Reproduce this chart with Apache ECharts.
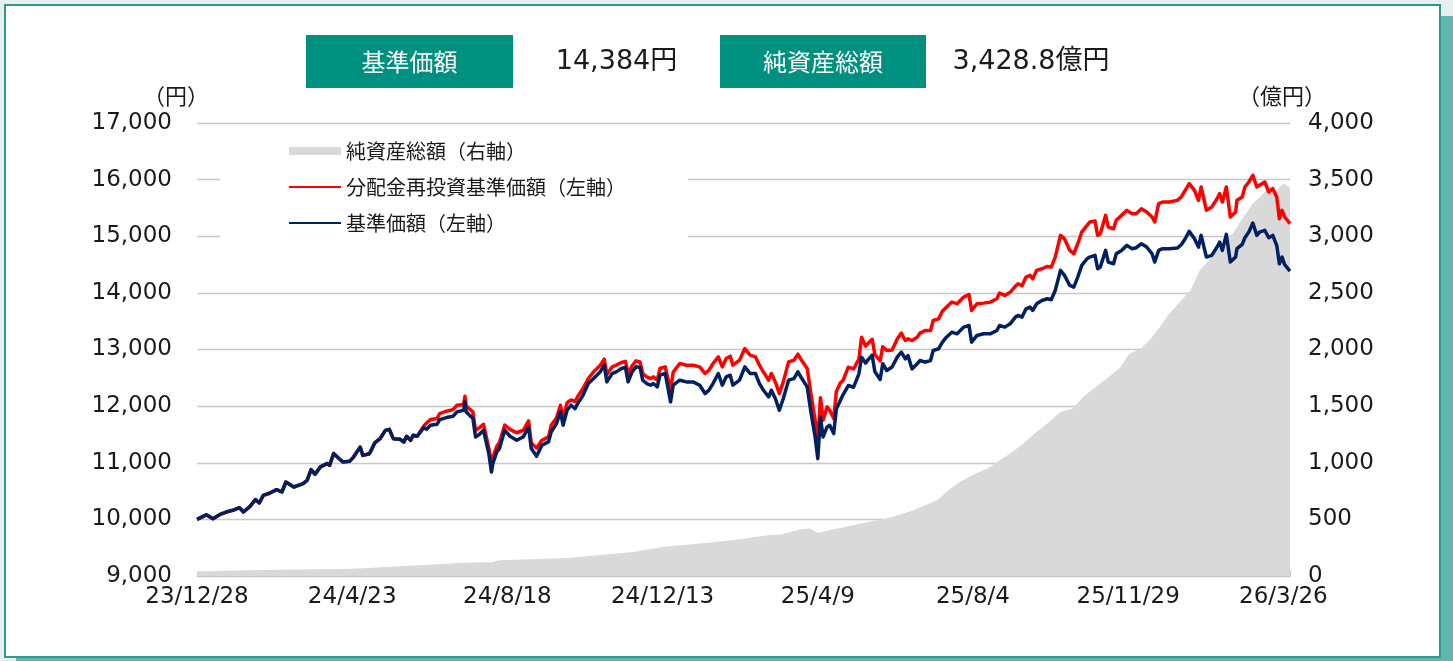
<!DOCTYPE html>
<html><head><meta charset="utf-8">
<script src="https://cdn.jsdelivr.net/npm/echarts@6/dist/echarts.min.js"></script>
<style>
html,body{margin:0;padding:0;width:1453px;height:661px;overflow:hidden;background:#e8eef0;}
#frame{position:absolute;left:4px;top:4px;width:1433px;height:650px;border:2px solid #2b9b8d;background:#fff;box-shadow:12px 12px 0 #62b7ac;}
#chart{position:absolute;left:0;top:0;width:1453px;height:661px;z-index:1;}
</style></head>
<body><div id="frame"></div><div id="chart"></div>
<script>
// ---- data ----
const tickLabels = ['23/12/28','24/4/23','24/8/18','24/12/13','25/4/9','25/8/4','25/11/29','26/3/26'];
const navDates = [
'23/12/28','24/1/4','24/1/9','24/1/14','24/1/19','24/1/24','24/1/29','24/2/1','24/2/6','24/2/10',
'24/2/13','24/2/16','24/2/21','24/2/26','24/3/1','24/3/4','24/3/10','24/3/17','24/3/20','24/3/23',
'24/3/26','24/3/30','24/4/4','24/4/6','24/4/9','24/4/13','24/4/16','24/4/21','24/4/24','24/4/29',
'24/5/1','24/5/6','24/5/10','24/5/14','24/5/18','24/5/21','24/5/24','24/5/29','24/6/1','24/6/3',
'24/6/6','24/6/8','24/6/11','24/6/16','24/6/18','24/6/21','24/6/26','24/6/28','24/7/3','24/7/8',
'24/7/11','24/7/16','24/7/17','24/7/18','24/7/23','24/7/25','24/7/28','24/7/31','24/8/4','24/8/6',
'24/8/7','24/8/10','24/8/12','24/8/16','24/8/20','24/8/25','24/8/30','24/9/3','24/9/5','24/9/9',
'24/9/13','24/9/18','24/9/20','24/9/24','24/9/27','24/9/29','24/10/2','24/10/5','24/10/8','24/10/10',
'24/10/14','24/10/18','24/10/22','24/10/27','24/10/30','24/11/1','24/11/5','24/11/8','24/11/12','24/11/15',
'24/11/17','24/11/20','24/11/23','24/11/26','24/11/28','24/12/1','24/12/4','24/12/6','24/12/9','24/12/11',
'24/12/15','24/12/19','24/12/21','24/12/26','24/12/31','25/1/5','25/1/10','25/1/14','25/1/17','25/1/20',
'25/1/24','25/1/27','25/1/30','25/2/2','25/2/4','25/2/9','25/2/13','25/2/17','25/2/21','25/2/24',
'25/2/27','25/3/3','25/3/5','25/3/8','25/3/11','25/3/14','25/3/18','25/3/22','25/3/25','25/3/28',
'25/4/1','25/4/4','25/4/7','25/4/9','25/4/11','25/4/13','25/4/16','25/4/18','25/4/21','25/4/23',
'25/4/26','25/4/28','25/5/2','25/5/6','25/5/10','25/5/12','25/5/15','25/5/17','25/5/20','25/5/22',
'25/5/26','25/5/28','25/5/31','25/6/4','25/6/8','25/6/11','25/6/14','25/6/16','25/6/19','25/6/23',
'25/6/25','25/6/29','25/7/3','25/7/5','25/7/9','25/7/12','25/7/15','25/7/19','25/7/23','25/7/28',
'25/8/1','25/8/3','25/8/7','25/8/12','25/8/17','25/8/22','25/8/24','25/8/28','25/9/1','25/9/5',
'25/9/7','25/9/10','25/9/13','25/9/16','25/9/18','25/9/21','25/9/25','25/9/29','25/10/2','25/10/5',
'25/10/9','25/10/12','25/10/16','25/10/19','25/10/22','25/10/25','25/10/29','25/10/31','25/11/4','25/11/6',
'25/11/8','25/11/12','25/11/14','25/11/18','25/11/20','25/11/24','25/11/28','25/12/2','25/12/5','25/12/9',
'25/12/13','25/12/17','25/12/19','25/12/22','25/12/25','25/12/30','26/1/5','26/1/8','26/1/11','26/1/14',
'26/1/18','26/1/21','26/1/23','26/1/27','26/1/31','26/2/4','26/2/6','26/2/8','26/2/11','26/2/14',
'26/2/18','26/2/19','26/2/23','26/2/25','26/2/28','26/3/3','26/3/6','26/3/8','26/3/12','26/3/15',
'26/3/18','26/3/21','26/3/23','26/3/25','26/3/27','26/3/31'
];
// 基準価額（左軸）
const navValues = [
10000,10080,10012,10083,10130,10160,10207,10130,10230,10348,
10290,10425,10466,10525,10483,10660,10572,10630,10690,10879,
10797,10927,10985,10956,11164,11075,11015,11025,11100,11276,
11130,11160,11350,11425,11572,11590,11425,11414,11367,11467,
11396,11485,11467,11620,11590,11662,11680,11762,11798,11821,
11898,11927,12075,11898,11780,11456,11503,11574,11161,10837,
10985,11191,11250,11574,11468,11397,11456,11633,11250,11114,
11309,11368,11544,11692,11898,11662,11927,12016,11957,12045,
12193,12399,12487,12605,12723,12428,12576,12605,12664,12682,
12428,12605,12694,12682,12458,12399,12369,12399,12340,12546,
12576,12075,12369,12458,12428,12428,12369,12222,12281,12399,
12576,12369,12517,12546,12369,12458,12694,12576,12576,12399,
12281,12163,12281,12134,11927,12134,12458,12487,12605,12487,
12340,11869,11456,11073,11810,11456,11633,11662,11515,11950,
12100,12200,12364,12334,12570,12864,12760,12820,12900,12610,
12470,12750,12629,12690,12870,12953,12835,12894,12658,12747,
12806,12776,12806,12982,13012,13130,13218,13306,13277,13395,
13424,13130,13248,13277,13277,13336,13424,13395,13454,13572,
13601,13572,13719,13748,13689,13807,13866,13896,13878,14043,
14397,14308,14131,14102,14279,14485,14603,14632,14662,14426,
14456,14750,14544,14514,14691,14750,14839,14780,14797,14868,
14809,14691,14544,14750,14780,14780,14791,14850,14956,15086,
14956,14809,15015,14632,14662,14809,14898,14750,15033,14544,
14632,14780,14856,14974,15074,15233,15015,15074,15104,14974,
15015,14839,14514,14632,14497,14384
];
// 分配金再投資基準価額（左軸）
const reinvValues = [
10000,10080,10012,10083,10130,10160,10207,10130,10230,10348,
10290,10425,10466,10525,10483,10660,10572,10630,10690,10879,
10797,10927,10985,10956,11164,11075,11015,11025,11100,11276,
11130,11160,11350,11425,11572,11590,11425,11414,11367,11467,
11396,11485,11467,11650,11700,11762,11780,11869,11910,11939,
12016,12030,12175,12000,11898,11574,11620,11680,11260,10980,
11095,11290,11355,11665,11590,11530,11574,11739,11350,11260,
11397,11456,11662,11790,12016,11780,12060,12110,12080,12170,
12310,12487,12605,12723,12830,12560,12694,12723,12770,12790,
12576,12710,12800,12780,12576,12517,12487,12517,12458,12664,
12694,12281,12600,12752,12723,12723,12694,12576,12635,12752,
12870,12694,12841,12882,12723,12811,13018,12900,12870,12723,
12605,12458,12576,12428,12222,12428,12782,12810,12917,12800,
12664,12193,11751,11368,12150,11751,11986,11927,11780,12260,
12410,12450,12688,12658,12830,13218,13060,13110,13180,12910,
12800,13050,12982,12990,13190,13289,13159,13189,13159,13218,
13289,13336,13336,13513,13540,13680,13748,13837,13810,13925,
13972,13690,13807,13819,13837,13896,13996,13955,14010,14120,
14161,14125,14279,14310,14249,14397,14426,14467,14456,14632,
15015,14956,14750,14691,14868,15074,15192,15251,15269,15015,
15045,15369,15163,15133,15281,15369,15457,15398,15398,15487,
15428,15340,15251,15575,15605,15605,15634,15693,15811,15929,
15811,15634,15870,15457,15516,15663,15752,15605,15870,15340,
15428,15634,15693,15870,15958,16076,15870,15899,15958,15781,
15840,15693,15310,15457,15340,15222
];
// 純資産総額（右軸, 億円）
const assetDates = [
'23/12/28','24/2/13','24/4/24','24/6/13','24/7/16','24/8/6','24/8/12','24/10/2','24/11/21','24/12/13',
'25/1/10','25/2/4','25/3/2','25/3/12','25/3/27','25/4/3','25/4/9','25/4/18','25/5/13','25/5/28',
'25/6/10','25/6/20','25/7/8','25/7/18','25/7/25','25/8/4','25/8/15','25/8/22','25/9/1','25/9/11',
'25/9/18','25/9/29','25/10/9','25/10/18','25/10/26','25/11/3','25/11/13','25/11/23','25/11/30','25/12/8',
'25/12/16','25/12/23','25/12/30','26/1/7','26/1/15','26/1/22','26/1/30','26/2/6','26/2/16','26/2/24',
'26/3/3','26/3/11','26/3/16','26/3/21','26/3/26','26/3/31'
];
const assetValues = [
40,52,65,95,118,122,140,159,212,256,
286,315,360,366,410,419,380,404,468,501,
540,580,669,772,830,895,949,1007,1081,1170,
1243,1346,1449,1479,1581,1655,1744,1840,1965,2000,
2097,2200,2318,2420,2524,2700,2804,2906,3025,3171,
3290,3378,3436,3407,3466,3428.8
];
const headerNav = '14,384円';
const headerAssets = '3,428.8億円';

// ---- helpers ----
const T0 = Date.UTC(2023, 11, 28);
function dayOf(s) {
  const p = s.split('/').map(Number);
  return Math.round((Date.UTC(2000 + p[0], p[1] - 1, p[2]) - T0) / 864e5);
}
const STEP = dayOf(tickLabels[1]);
const XMAX = dayOf(navDates[navDates.length - 1]);
const FONT = '"DejaVu Sans", "Noto Sans CJK JP", sans-serif';
const CJK = '"Noto Sans CJK JP", sans-serif';

const navData = navDates.map((d, i) => [dayOf(d), navValues[i]]);
const reinvData = navDates.map((d, i) => [dayOf(d), reinvValues[i]]);
const assetData = assetDates.map((d, i) => [dayOf(d), assetValues[i]]);

const chart = echarts.init(document.getElementById('chart'), null, {renderer: 'canvas'});
chart.setOption({
  animation: false,
  backgroundColor: 'transparent',
  textStyle: {fontFamily: FONT},
  grid: {left: 197, top: 123, width: 1093, height: 453, containLabel: false},
  legend: {
    orient: 'vertical', left: 288, top: 140, padding: 0,
    itemWidth: 52, itemHeight: 8, itemGap: 14,
    textStyle: {fontSize: 20, color: '#1a1a1a', fontFamily: CJK, lineHeight: 22},
    data: [
      {name: '純資産総額（右軸）', icon: 'rect'},
      {name: '分配金再投資基準価額（左軸）', itemStyle: {opacity: 0}},
      {name: '基準価額（左軸）', itemStyle: {opacity: 0}}
    ]
  },
  xAxis: {
    type: 'value', min: 0, max: XMAX, interval: STEP,
    axisLine: {show: true, lineStyle: {color: '#c4c4c4', width: 1.5}},
    axisTick: {show: true, inside: true, length: 5, lineStyle: {color: '#c4c4c4', width: 1}},
    splitLine: {show: false},
    axisLabel: {
      fontSize: 23, color: '#1a1a1a', margin: 10, showMaxLabel: true,
      formatter: v => (v % STEP === 0 && v / STEP < tickLabels.length) ? tickLabels[v / STEP] : ''
    }
  },
  yAxis: [
    {
      type: 'value', min: 9000, max: 17000, interval: 1000, position: 'left',
      axisLine: {show: false}, axisTick: {show: false},
      splitLine: {show: true, lineStyle: {color: '#c8c8c8', width: 1.3}},
      axisLabel: {fontSize: 23, color: '#1a1a1a', margin: 25,
        formatter: v => v.toLocaleString('en-US')}
    },
    {
      type: 'value', min: 0, max: 4000, interval: 500, position: 'right',
      axisLine: {show: false}, axisTick: {show: false}, splitLine: {show: false},
      axisLabel: {fontSize: 23, color: '#1a1a1a', margin: 18,
        formatter: v => v.toLocaleString('en-US')}
    }
  ],
  graphic: [
    {type: 'rect', z: 1, shape: {x: 220, y: 132, width: 468, height: 118}, style: {fill: '#ffffff'}},
    {type: 'rect', shape: {x: 306, y: 35, width: 207, height: 53}, style: {fill: '#00907f'}},
    {type: 'text', x: 409.5, y: 62, style: {text: '基準価額', fill: '#ffffff', fontSize: 24, fontFamily: CJK, align: 'center', verticalAlign: 'middle', textAlign: 'center', textVerticalAlign: 'middle'}},
    {type: 'text', x: 616.5, y: 62, style: {text: headerNav, fill: '#1a1a1a', fontSize: 27, fontFamily: FONT, align: 'center', verticalAlign: 'middle', textAlign: 'center', textVerticalAlign: 'middle'}},
    {type: 'rect', shape: {x: 720, y: 35, width: 206, height: 53}, style: {fill: '#00907f'}},
    {type: 'text', x: 823, y: 62, style: {text: '純資産総額', fill: '#ffffff', fontSize: 24, fontFamily: CJK, align: 'center', verticalAlign: 'middle', textAlign: 'center', textVerticalAlign: 'middle'}},
    {type: 'text', x: 1031, y: 62, style: {text: headerAssets, fill: '#1a1a1a', fontSize: 27, fontFamily: FONT, align: 'center', verticalAlign: 'middle', textAlign: 'center', textVerticalAlign: 'middle'}},
    {type: 'text', x: 176, y: 96, style: {text: '（円）', fill: '#1a1a1a', fontSize: 22, fontFamily: CJK, align: 'center', verticalAlign: 'middle', textAlign: 'center', textVerticalAlign: 'middle'}},
    {type: 'text', x: 1282, y: 96, style: {text: '（億円）', fill: '#1a1a1a', fontSize: 22, fontFamily: CJK, align: 'center', verticalAlign: 'middle', textAlign: 'center', textVerticalAlign: 'middle'}}
  ],
  series: [
    {
      name: '純資産総額（右軸）', type: 'line', yAxisIndex: 1, data: assetData,
      symbol: 'none', showSymbol: false, z: 1,
      itemStyle: {color: '#d9d9d9'},
      lineStyle: {width: 0, color: '#d9d9d9'},
      areaStyle: {color: '#d9d9d9', opacity: 1}
    },
    {
      name: '分配金再投資基準価額（左軸）', type: 'line', yAxisIndex: 0, data: reinvData,
      symbol: 'none', showSymbol: false, z: 3,
      itemStyle: {color: '#ff0000'},
      lineStyle: {width: 3.5, color: '#ff0000', join: 'round'}
    },
    {
      name: '基準価額（左軸）', type: 'line', yAxisIndex: 0, data: navData,
      symbol: 'none', showSymbol: false, z: 4,
      itemStyle: {color: '#002060'},
      lineStyle: {width: 3.5, color: '#002060', join: 'round'}
    }
  ]
});
</script>
</body></html>
